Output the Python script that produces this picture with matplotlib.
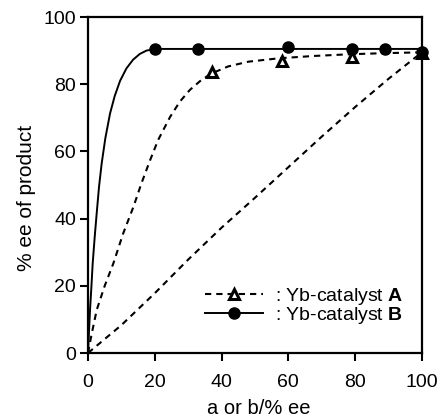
import matplotlib
matplotlib.use("Agg")
import matplotlib.pyplot as plt

plt.rcParams['font.family'] = ['Liberation Sans', 'DejaVu Sans']
plt.rcParams['mathtext.fontset'] = 'custom'
plt.rcParams['mathtext.rm'] = 'Liberation Sans'
plt.rcParams['mathtext.bf'] = 'Liberation Sans:bold'

# Measured points
a_x = [37, 58, 79, 100]
a_y = [83.5, 87, 88, 89.2]
b_x = [20, 33, 60, 79, 89, 100]
b_y = [90.5, 90.5, 91, 90.5, 90.5, 89.5]

# Fitted curves
curve_a_x = [0, 1, 2.6, 5, 7.6, 10.5, 13.6, 16, 18.6, 21, 24.6, 27.5, 30.5, 34, 37, 42, 48, 57, 67.5, 78, 87.4, 100]
curve_a_y = [0, 5.2, 12.8, 20, 26.7, 35.5, 43.5, 50.5, 57.4, 63.4, 70.3, 74.8, 78.3, 81.3, 83.2, 85.3, 86.7, 87.7, 88.4, 88.9, 89.2, 89.5]
curve_b_x = [0, 0.3, 0.6, 1.0, 1.4, 2.0, 2.6, 3.3, 4.1, 5.2, 6.6, 8.0, 9.6, 11.5, 13.5, 15.5, 17.5, 20, 100]
curve_b_y = [0, 6.5, 12.8, 19.5, 26.7, 34.5, 41.6, 49.5, 56.5, 64, 71.3, 76.5, 81, 84.7, 87.3, 89, 90, 90.5, 90.5]
line_x = [0, 10, 20, 30, 40, 50, 60, 70, 80, 90, 100]
line_y = [0, 8.3, 17.8, 27.8, 37.3, 46.2, 55.3, 64.4, 73.2, 81.6, 89.5]

xticks = [0, 20, 40, 60, 80, 100]
yticks = [0, 20, 40, 60, 80, 100]

fig = plt.figure(figsize=(4.39, 4.18), dpi=100)
ax = fig.add_axes([0.2005, 0.1555, 0.7605, 0.8038])

dash = (0, (3, 2.4))
ax.plot(line_x, line_y, color='black', lw=1.5, linestyle=dash)
ax.plot(curve_a_x, curve_a_y, color='black', lw=1.5, linestyle=dash)
ax.plot(curve_b_x, curve_b_y, color='black', lw=1.4, linestyle='-')
ax.plot(a_x, a_y, linestyle='none', marker='^', markersize=7, markerfacecolor='white',
        markeredgecolor='black', markeredgewidth=2.2, clip_on=False, zorder=5)
ax.plot(b_x, b_y, linestyle='none', marker='o', markersize=8, color='black', clip_on=False, zorder=5)

# legend handles
hA, = ax.plot([], [], color='black', lw=1.5, linestyle=dash, marker='^', markersize=7,
              markerfacecolor='white', markeredgecolor='black', markeredgewidth=2.2)
hB, = ax.plot([], [], color='black', lw=1.4, linestyle='-', marker='o', markersize=8)
leg = ax.legend([hA, hB], [r': Yb-catalyst $\mathbf{A}$', r': Yb-catalyst $\mathbf{B}$'],
                loc='lower left', bbox_to_anchor=(0.35, 0.08), frameon=False, fontsize=14,
                handlelength=3.0, handletextpad=0.6, labelspacing=-0.1, borderpad=0,
                borderaxespad=0)

ax.set_xlim(0, 100)
ax.set_ylim(0, 100)
ax.set_xticks(xticks)
ax.set_yticks(yticks)
ax.tick_params(direction='out', length=6, width=1.5, labelsize=14)
ax.tick_params(axis='x', pad=9)
ax.tick_params(axis='y', pad=2.5)
for s in ax.spines.values():
    s.set_linewidth(1.6)

ax.set_xlabel('a or b/% ee', fontsize=14.5)
ax.set_ylabel('% ee of product', fontsize=15)
ax.xaxis.set_label_coords(0.51, -0.138)
ax.yaxis.set_label_coords(-0.155, 0.461)

fig.savefig('out.png', dpi=100)
